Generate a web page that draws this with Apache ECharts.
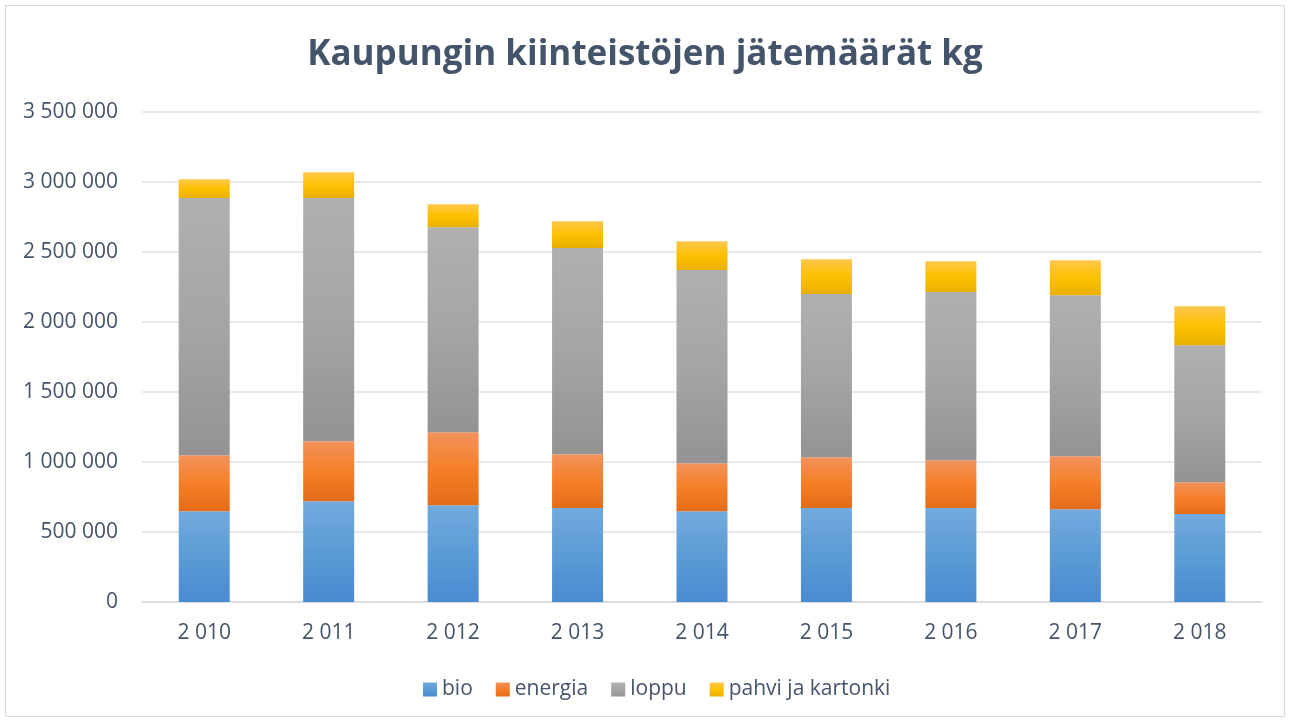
<!DOCTYPE html>
<html>
<head>
<meta charset="utf-8">
<script src="https://cdn.jsdelivr.net/npm/echarts@6/dist/echarts.min.js"></script>
<style>
html, body { margin: 0; padding: 0; background: #fff; }
#chart { width: 1290px; height: 722px; }
</style>
</head>
<body>
<div id="chart"></div>
<script>
// vuodet
const years = ['2 010', '2 011', '2 012', '2 013', '2 014', '2 015', '2 016', '2 017', '2 018'];
// jätemäärät kg
const bio = [648000, 719000, 691000, 671000, 648000, 671000, 671000, 662000, 629000];
const energia = [400000, 429000, 521000, 384000, 343000, 363000, 341000, 379000, 226000];
const loppu = [1838000, 1738000, 1464000, 1474000, 1380000, 1166000, 1202000, 1150000, 979000];
const pahvi = [133000, 183000, 165000, 190000, 205000, 248000, 220000, 250000, 278000];

const textColor = '#44546a';
const font = 'Open Sans';

// liukuväri ylhäältä alas, kuten Excelissä
const grad = (top, mid, bottom) => new echarts.graphic.LinearGradient(0, 0, 0, 1, [
    { offset: 0, color: top },
    { offset: 0.5, color: mid },
    { offset: 1, color: bottom }
]);

const fmt = v => String(v).replace(/\B(?=(\d{3})+(?!\d))/g, ' ');

const makeSeries = (name, data, color) => ({
    name: name,
    type: 'bar',
    stack: 'total',
    barWidth: 51,
    data: data,
    itemStyle: { color: color }
});

const myChart = echarts.init(document.getElementById('chart'));

const option = {
    animation: false,
    title: {
        text: 'Kaupungin kiinteistöjen jätemäärät kg',
        left: 'center',
        top: 33,
        textStyle: { color: textColor, fontSize: 35, fontWeight: 'bold', fontFamily: font }
    },
    legend: {
        bottom: 17,
        left: 418,
        itemWidth: 14,
        itemHeight: 14,
        itemGap: 23,
        icon: 'rect',
        textStyle: { color: textColor, fontSize: 21, fontFamily: font },
        data: ['bio', 'energia', 'loppu', 'pahvi ja kartonki']
    },
    grid: { left: 142, right: 28, top: 112, bottom: 120 },
    xAxis: {
        type: 'category',
        data: years,
        axisLine: { lineStyle: { color: '#d9d9d9', width: 1.5 } },
        axisTick: { show: false },
        axisLabel: { color: textColor, fontSize: 21, fontFamily: font, margin: 21 }
    },
    yAxis: {
        type: 'value',
        min: 0,
        max: 3500000,
        interval: 500000,
        axisLine: { show: false },
        axisTick: { show: false },
        splitLine: { lineStyle: { color: '#dfe2e7', width: 1.5 } },
        axisLabel: { color: textColor, fontSize: 21, fontFamily: font, margin: 24, formatter: fmt }
    },
    graphic: [{
        type: 'rect',
        shape: { x: 5.5, y: 5.5, width: 1279, height: 711 },
        style: { fill: 'none', stroke: '#d9d9d9', lineWidth: 1 },
        silent: true
    }],
    series: [
        makeSeries('bio', bio, grad('#72aade', '#5b9bd5', '#4a8ad0')),
        makeSeries('energia', energia, grad('#f2925c', '#f57f28', '#e46c19')),
        makeSeries('loppu', loppu, grad('#b0b0b0', '#a5a5a5', '#939393')),
        makeSeries('pahvi ja kartonki', pahvi, grad('#ffc84c', '#ffc000', '#e8b000'))
    ]
};

myChart.setOption(option);
</script>
</body>
</html>
